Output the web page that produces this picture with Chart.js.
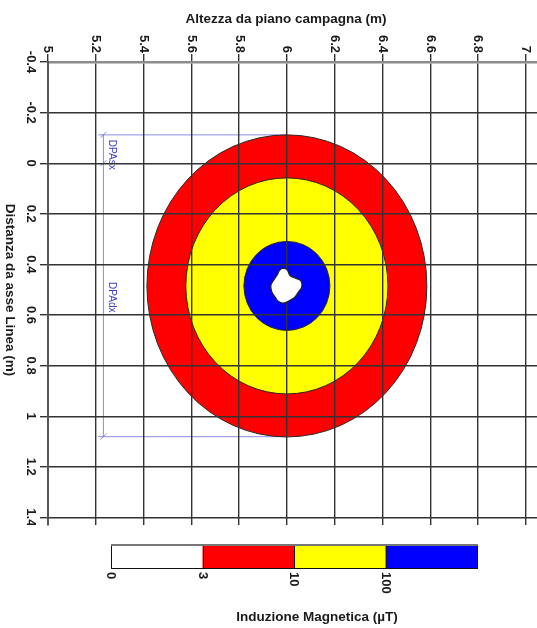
<!DOCTYPE html>
<html>
<head>
<meta charset="utf-8">
<script src="https://cdn.jsdelivr.net/npm/chart.js@4.4.0/dist/chart.umd.min.js"></script>
<style>
  html, body { margin: 0; padding: 0; background: #fff; }
  canvas { display: block; }
</style>
</head>
<body>
<canvas id="fieldChart" width="537" height="628"></canvas>
<script>
// axis ticks
const xTicks = [5, 5.2, 5.4, 5.6, 5.8, 6, 6.2, 6.4, 6.6, 6.8, 7];
const yTicks = [-0.4, -0.2, 0, 0.2, 0.4, 0.6, 0.8, 1, 1.2, 1.4];

// field bands, outer to inner (3-10, 10-100, >100 uT)
const bandColors = ['#ff0000', '#ffff00', '#0000ff'];
const bandRadiusX = [0.586, 0.423, 0.18];
const bandRadiusY = [0.597, 0.427, 0.176];
const bandCenter = [6.0, 0.485];

// conductor blob in the middle
const blobX = [5.979, 6.000, 6.013, 6.034, 6.058, 6.062, 6.048, 6.034, 6.013, 5.985,
               5.964, 5.951, 5.937, 5.933, 5.943, 5.958, 5.969, 5.979];
const blobY = [0.415, 0.420, 0.444, 0.454, 0.464, 0.490, 0.509, 0.529, 0.542, 0.553,
               0.546, 0.529, 0.509, 0.483, 0.464, 0.444, 0.424, 0.415];

// DPA dimension line
const dpaLabels = ['DPAsx', 'DPAdx'];
const dpaLimits = [-0.112, 0, 1.081];
const dpaLineX = 5.232;

// colour bar
const legendLevels = ['0', '3', '10', '100'];
const legendColors = ['#ffffff', '#ff0000', '#ffff00', '#0000ff'];
const legendTitle = 'Induzione Magnetica (\u00b5T)';

const xTitle = 'Altezza da piano campagna (m)';
const yTitle = 'Distanza da asse Linea (m)';

function rotText(ctx, text, x, y, align) {
  ctx.save();
  ctx.translate(x, y);
  ctx.rotate(Math.PI / 2);
  ctx.textAlign = align;
  ctx.textBaseline = 'middle';
  ctx.fillText(text, 0, 0);
  ctx.restore();
}

const bandsPlugin = {
  id: 'bands',
  beforeDraw(chart) {
    const ctx = chart.ctx;
    const xs = chart.scales.x, ys = chart.scales.y;
    const a = chart.chartArea;
    ctx.save();
    ctx.beginPath();
    ctx.rect(a.left, a.top, a.right - a.left, a.bottom - a.top);
    ctx.clip();

    // DPA lines (under the bands)
    const lx = xs.getPixelForValue(dpaLineX);
    const y0 = ys.getPixelForValue(dpaLimits[0]);
    const y2 = ys.getPixelForValue(dpaLimits[2]);
    const cxp = xs.getPixelForValue(bandCenter[0]);
    ctx.strokeStyle = 'rgba(110,110,220,0.8)';
    ctx.lineWidth = 1;
    ctx.beginPath();
    ctx.moveTo(lx - 5, y0); ctx.lineTo(cxp, y0);
    ctx.moveTo(lx - 5, y2); ctx.lineTo(cxp, y2);
    ctx.moveTo(lx, y0); ctx.lineTo(lx, y2);
    dpaLimits.forEach(v => {
      const p = ys.getPixelForValue(v);
      ctx.moveTo(lx - 3, p + 3); ctx.lineTo(lx + 3, p - 3);
    });
    ctx.stroke();
    ctx.fillStyle = '#4040c8';
    ctx.font = '10px "Liberation Sans"';
    rotText(ctx, dpaLabels[0], lx + 8, y0 + 5, 'left');
    rotText(ctx, dpaLabels[1], lx + 8, ys.getPixelForValue(0.53), 'center');

    // bands
    const cx = xs.getPixelForValue(bandCenter[0]);
    const cy = ys.getPixelForValue(bandCenter[1]);
    bandColors.forEach((c, i) => {
      const rx = Math.abs(xs.getPixelForValue(bandCenter[0] + bandRadiusX[i]) - cx);
      const ry = Math.abs(ys.getPixelForValue(bandCenter[1] + bandRadiusY[i]) - cy);
      ctx.beginPath();
      ctx.ellipse(cx, cy, rx, ry, 0, 0, Math.PI * 2);
      ctx.fillStyle = c;
      ctx.fill();
      ctx.strokeStyle = '#2a2a2a';
      ctx.lineWidth = 1;
      ctx.stroke();
    });
    ctx.restore();
  },
  afterDraw(chart) {
    const ctx = chart.ctx;
    const xs = chart.scales.x, ys = chart.scales.y;
    const a = chart.chartArea;
    ctx.save();
    ctx.fillStyle = '#1a1a1a';
    ctx.font = 'bold 13px "Liberation Sans"';
    xs.ticks.forEach(t => {
      rotText(ctx, String(t.value), xs.getPixelForValue(t.value), 53, 'right');
    });
    ctx.save();
    ctx.beginPath();
    ctx.rect(0, 0, a.left, a.bottom);
    ctx.clip();
    ys.ticks.forEach(t => {
      rotText(ctx, String(t.value), 31, ys.getPixelForValue(t.value), 'center');
    });
    ctx.restore();

    // titles
    ctx.font = 'bold 13.5px "Liberation Sans"';
    ctx.textAlign = 'center';
    ctx.textBaseline = 'middle';
    ctx.fillText(xTitle, 286, 19);
    rotText(ctx, yTitle, 10, 290, 'center');

    // colour bar
    const bx = 111, by = 545, bw = 366, bh = 23;
    const sw = bw / legendColors.length;
    legendColors.forEach((c, i) => {
      ctx.fillStyle = c;
      ctx.fillRect(bx + i * sw, by, sw, bh);
    });
    ctx.strokeStyle = '#111';
    ctx.lineWidth = 1;
    ctx.strokeRect(bx + 0.5, by + 0.5, bw, bh);
    ctx.beginPath();
    for (let i = 1; i < legendColors.length; i++) {
      ctx.moveTo(Math.round(bx + i * sw) + 0.5, by);
      ctx.lineTo(Math.round(bx + i * sw) + 0.5, by + bh);
    }
    ctx.stroke();
    ctx.strokeStyle = '#777';
    ctx.lineWidth = 2;
    ctx.beginPath();
    ctx.moveTo(bx, by); ctx.lineTo(bx + bw + 1, by);
    ctx.stroke();

    ctx.fillStyle = '#1a1a1a';
    ctx.font = 'bold 13px "Liberation Sans"';
    legendLevels.forEach((l, i) => {
      rotText(ctx, l, bx + i * sw, 572, 'left');
    });
    ctx.font = 'bold 13.5px "Liberation Sans"';
    ctx.textAlign = 'center';
    ctx.textBaseline = 'middle';
    ctx.fillText(legendTitle, 317, 617);
    ctx.restore();
  }
};

const ctx = document.getElementById('fieldChart').getContext('2d');
const fieldChart = new Chart(ctx, {
  type: 'scatter',
  data: {
    datasets: [{
      label: 'conduttore',
      data: blobX.map((x, i) => ({ x: x, y: blobY[i] })),
      showLine: true,
      fill: 'shape',
      backgroundColor: '#ffffff',
      borderColor: '#222',
      borderWidth: 1.2,
      pointRadius: 0,
      tension: 0.35
    }]
  },
  options: {
    responsive: false,
    animation: false,
    layout: { padding: { top: 0, left: 0, right: 0, bottom: 103 } },
    plugins: { legend: { display: false }, tooltip: { enabled: false } },
    scales: {
      x: {
        type: 'linear',
        position: 'top',
        min: 5,
        max: 7.047,
        afterBuildTicks: s => { s.ticks = xTicks.map(v => ({ value: v })); },
        afterFit: s => { s.height = 62; },
        ticks: { display: false },
        grid: { color: '#333', lineWidth: 1.4, tickLength: 8 },
        border: { color: '#8c8c8c', width: 2.5 }
      },
      y: {
        type: 'linear',
        position: 'left',
        reverse: true,
        min: -0.4,
        max: 1.43,
        afterBuildTicks: s => { s.ticks = yTicks.map(v => ({ value: v })); },
        afterFit: s => { s.width = 48; },
        ticks: { display: false },
        grid: { color: '#333', lineWidth: 1.4, tickLength: 8 },
        border: { color: '#555', width: 2 }
      }
    }
  },
  plugins: [bandsPlugin]
});
</script>
</body>
</html>
